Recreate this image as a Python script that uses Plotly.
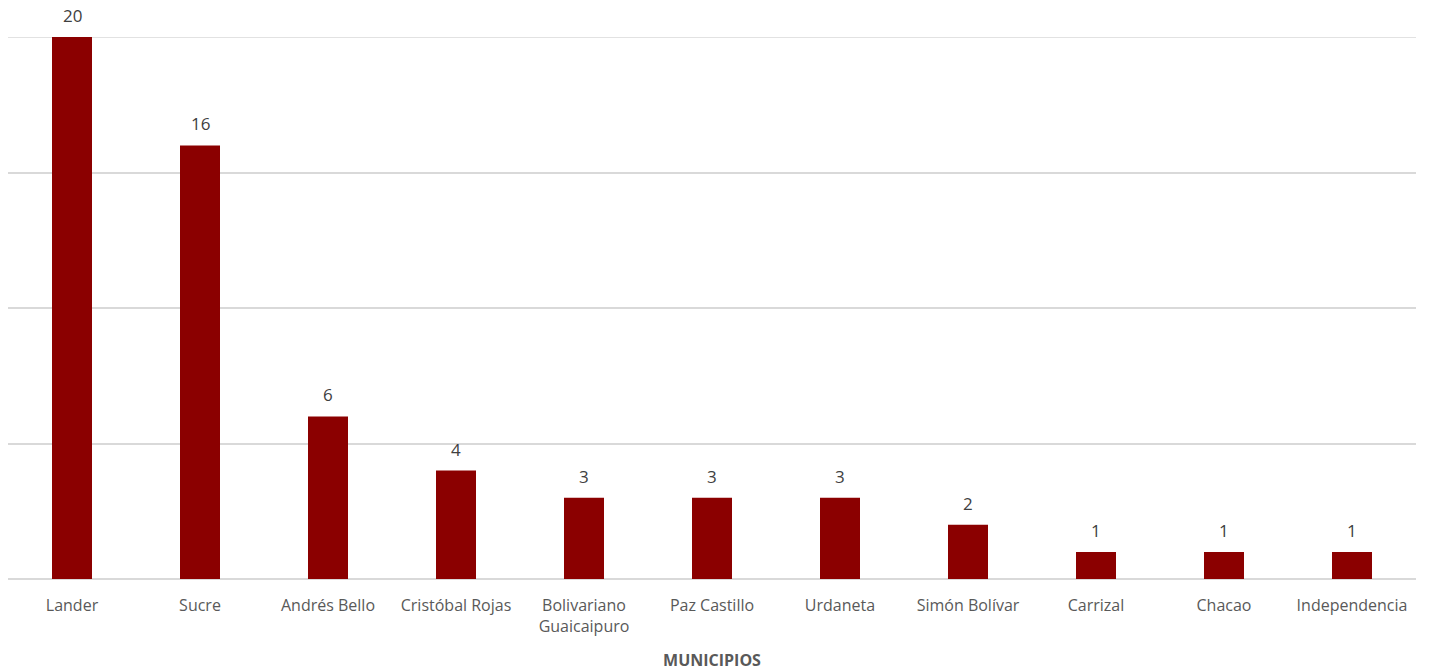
import plotly.graph_objects as go

categories = ["Lander", "Sucre", "Andrés Bello", "Cristóbal Rojas", "Bolivariano<br>Guaicaipuro",
              "Paz Castillo", "Urdaneta", "Simón Bolívar", "Carrizal", "Chacao", "Independencia"]
values = [20, 16, 6, 4, 3, 3, 3, 2, 1, 1, 1]

fig = go.Figure(go.Bar(
    x=categories, y=values,
    marker=dict(color="#8B0000", line=dict(width=0)),
    cliponaxis=False,
))

for c, v in zip(categories, values):
    fig.add_annotation(x=c, y=v, text=str(v), showarrow=False, yanchor="bottom",
                       yshift=8, font=dict(size=17, color="#404040", family="Open Sans"))

fig.add_shape(type="line", xref="paper", x0=0, x1=1, yref="y", y0=20, y1=20,
              line=dict(color="#d9d9d9", width=1.5), layer="below")

fig.update_layout(
    width=1422, height=663,
    margin=dict(l=0, r=14, t=29, b=92, autoexpand=False),
    plot_bgcolor="white", paper_bgcolor="white",
    bargap=0.6875,
    font=dict(family="Open Sans", color="#595959", size=16),
    showlegend=False,
    xaxis=dict(
        title=dict(text="<b>MUNICIPIOS</b>", font=dict(size=16, color="#595959"), standoff=19),
        tickfont=dict(size=16, color="#595959"),
        showline=False, ticks="", ticklabelstandoff=15,
        automargin=False,
    ),
    yaxis=dict(
        range=[0, 20], dtick=5, showticklabels=False,
        gridcolor="#d9d9d9", gridwidth=1.5,
        zeroline=True, zerolinecolor="#d9d9d9", zerolinewidth=1.5,
        automargin=False,
    ),
)

fig.write_html("out.html")
